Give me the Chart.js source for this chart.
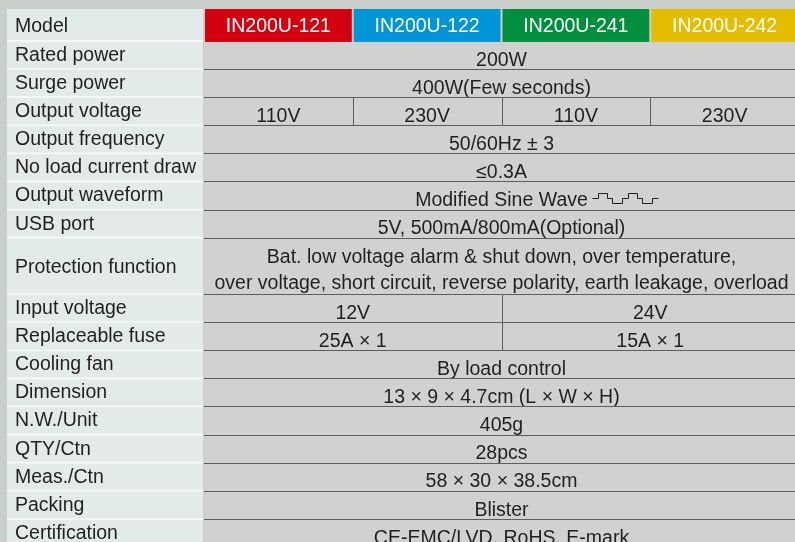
<!DOCTYPE html>
<html>
<head>
<meta charset="utf-8">
<title>IN200U spec table</title>
<script src="https://cdn.jsdelivr.net/npm/chart.js@4.4.1/dist/chart.umd.min.js"></script>
<style>
  html, body { margin: 0; padding: 0; overflow: hidden; background: #cbcfcb; }
  canvas { display: block; }
</style>
</head>
<body>
<canvas id="specChart" width="800" height="550"></canvas>
<script>
// ---- table data ----
const headerLabel = 'Model';
const models = ['IN200U-121', 'IN200U-122', 'IN200U-241', 'IN200U-242'];

const specLabels = [
  'Rated power', 'Surge power', 'Output voltage', 'Output frequency',
  'No load current draw', 'Output waveform', 'USB port', 'Protection function',
  'Input voltage', 'Replaceable fuse', 'Cooling fan', 'Dimension',
  'N.W./Unit', 'QTY/Ctn', 'Meas./Ctn', 'Packing', 'Certification'
];
// how many table rows each spec uses
const specRowSpans = [1, 1, 1, 1, 1, 1, 1, 2, 1, 1, 1, 1, 1, 1, 1, 1, 1];
// cells of each spec, split evenly over the four models
const specValues = [
  ['200W'],
  ['400W(Few seconds)'],
  ['110V', '230V', '110V', '230V'],
  ['50/60Hz \u00b1 3'],
  ['\u22640.3A'],
  ['Modified Sine Wave'],
  ['5V, 500mA/800mA(Optional)'],
  ['Bat. low voltage alarm & shut down, over temperature,\nover voltage, short circuit, reverse polarity, earth leakage, overload'],
  ['12V', '24V'],
  ['25A \u00d7 1', '15A \u00d7 1'],
  ['By load control'],
  ['13 \u00d7 9 \u00d7 4.7cm (L \u00d7 W \u00d7 H)'],
  ['405g'],
  ['28pcs'],
  ['58 \u00d7 30 \u00d7 38.5cm'],
  ['Blister'],
  ['CE-EMC/LVD, RoHS, E-mark']
];
const waveformRow = 'Output waveform';

// ---- look ----
const modelColors = ['#d3000f', '#0095d6', '#008f3f', '#e5bd00'];
const HEADER_SPAN = 1.135;
const LABEL_COLS = 1.3244;
const FONT = '19.5px "Liberation Sans", Arial, sans-serif';
const TEXT = '#231f20';

const totalRows = HEADER_SPAN + specRowSpans.reduce((a, b) => a + b, 0);

const tablePlugin = {
  id: 'specTable',
  beforeDraw(chart) {
    const { ctx, scales: { x, y } } = chart;
    const xl = x.getPixelForValue(-LABEL_COLS);
    const x0 = x.getPixelForValue(0);
    const xr = x.getPixelForValue(models.length);
    const colX = i => x.getPixelForValue(i);

    ctx.save();
    ctx.fillStyle = '#cbcfcb';
    ctx.fillRect(0, 0, chart.width, chart.height);

    // value area
    ctx.fillStyle = '#d1d2cf';
    ctx.fillRect(x0, y.getPixelForValue(HEADER_SPAN), xr - x0, y.getPixelForValue(totalRows) - y.getPixelForValue(HEADER_SPAN));

    ctx.font = FONT;
    ctx.textBaseline = 'alphabetic';

    // header
    const hTop = y.getPixelForValue(0), hBot = y.getPixelForValue(HEADER_SPAN);
    ctx.fillStyle = '#e3eaea';
    ctx.fillRect(xl, hTop, x0 - 1 - xl, hBot - hTop);
    ctx.fillStyle = TEXT;
    ctx.textAlign = 'left';
    ctx.fillText(headerLabel, xl + 8, hTop + 22.7);
    models.forEach((m, i) => {
      const a = colX(i) + 1, b = colX(i + 1) - 1;
      ctx.fillStyle = modelColors[i];
      ctx.fillRect(a, hTop, b - a, hBot - hTop + 1);
      ctx.fillStyle = '#ffffff';
      ctx.textAlign = 'center';
      ctx.fillText(m, (a + b) / 2, hTop + 23.3);
    });

    // spec rows
    let u = HEADER_SPAN;
    specLabels.forEach((label, r) => {
      const top = y.getPixelForValue(u);
      const bot = y.getPixelForValue(u + specRowSpans[r]);
      const span = specRowSpans[r];

      // label cell
      ctx.fillStyle = '#e3eaea';
      ctx.fillRect(xl, top, x0 - 1 - xl, bot - top);
      ctx.strokeStyle = '#f6f9f9';
      ctx.lineWidth = 1.6;
      ctx.beginPath();
      ctx.moveTo(xl, top);
      ctx.lineTo(x0 - 1, top);
      ctx.stroke();
      ctx.fillStyle = TEXT;
      ctx.textAlign = 'left';
      const labelBase = span > 1 ? (top + bot) / 2 + 7.5 : top + 20;
      ctx.fillText(label, xl + 8, labelBase);

      // row separator in value area
      ctx.strokeStyle = '#5d5d5d';
      ctx.lineWidth = 1;
      if (r > 0) {
        const ly = Math.round(top) + 0.5;
        ctx.beginPath();
        ctx.moveTo(x0, ly);
        ctx.lineTo(xr, ly);
        ctx.stroke();
      }

      // value cells
      const cells = specValues[r];
      const w = models.length / cells.length;
      cells.forEach((txt, c) => {
        const a = colX(c * w), b = colX((c + 1) * w);
        if (c > 0) {
          const lx = Math.round(a) + 0.5;
          ctx.beginPath();
          ctx.moveTo(lx, top);
          ctx.lineTo(lx, bot);
          ctx.stroke();
        }
        ctx.fillStyle = TEXT;
        ctx.textAlign = 'center';
        const lines = txt.split('\n');
        const cx = (a + b) / 2;
        lines.forEach((ln, k) => {
          ctx.fillText(ln, cx, top + 24.8 + k * 26.7);
        });
        if (label === waveformRow) {
          // small modified-sine glyph after the text
          const tw = ctx.measureText(txt).width;
          const ox = cx + tw / 2 + 4, oy = top + 16.5, h = 5;
          const steps = [[0, 0], [6, 0], [6, -h], [15, -h], [15, 0], [20, 0], [20, h], [30, h], [30, 0],
                         [36, 0], [36, -h], [45, -h], [45, 0], [50, 0], [50, h], [60, h], [60, 0], [66, 0]];
          ctx.strokeStyle = TEXT;
          ctx.lineWidth = 1;
          ctx.beginPath();
          steps.forEach(([sx, sy], k) => {
            const px = Math.round(ox + sx) + 0.5, py = Math.round(oy + sy) + 0.5;
            k ? ctx.lineTo(px, py) : ctx.moveTo(px, py);
          });
          ctx.stroke();
          ctx.strokeStyle = '#5d5d5d';
        }
      });
      u += span;
    });
    ctx.restore();
  }
};

new Chart(document.getElementById('specChart'), {
  type: 'scatter',
  data: { datasets: [{ data: [] }] },
  options: {
    responsive: false,
    animation: false,
    devicePixelRatio: 1,
    layout: { padding: { left: 7, top: 9, right: 1, bottom: 3 } },
    plugins: { legend: { display: false }, tooltip: { enabled: false } },
    scales: {
      x: { type: 'linear', display: false, min: -LABEL_COLS, max: models.length },
      y: { type: 'linear', display: false, min: 0, max: totalRows, reverse: true }
    }
  },
  plugins: [tablePlugin]
});
</script>
</body>
</html>
